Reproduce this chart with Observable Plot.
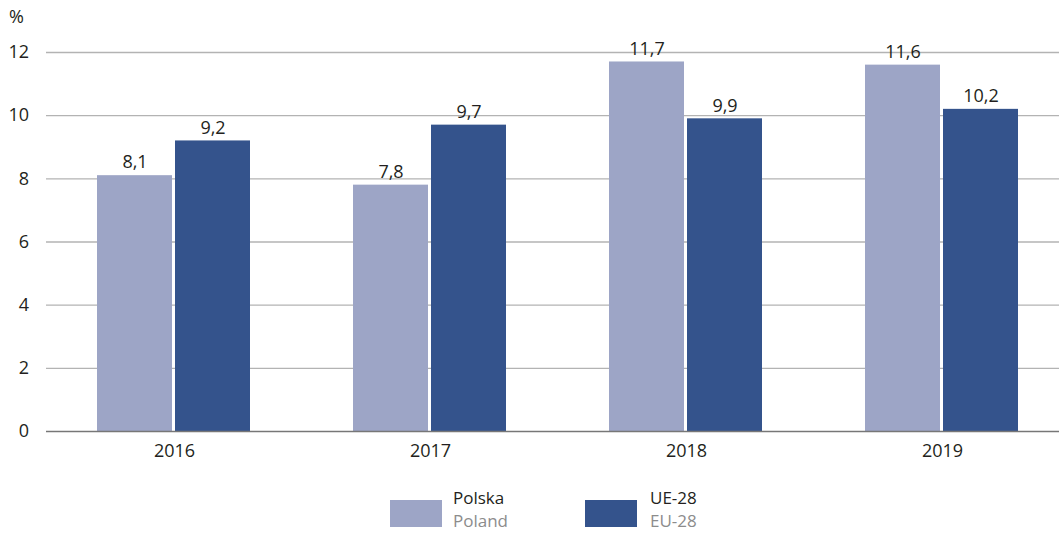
<!DOCTYPE html>
<html>
<head>
<meta charset="utf-8">
<script src="https://cdn.jsdelivr.net/npm/d3@7"></script>
<script src="https://cdn.jsdelivr.net/npm/@observablehq/plot@0.6"></script>
<style>
  body { margin: 0; background: #fff; font-family: "Open Sans", sans-serif; }
  #wrap { position: relative; width: 1059px; height: 533px; overflow: hidden; }
  #chart svg { max-width: none !important; display: block; }
  #pct { position: absolute; left: 9px; top: 4px; font-size: 18px; color: #231f20; }
  #legend { position: absolute; top: 491px; left: 0; width: 1059px; }
  .sw { position: absolute; top: 9px; width: 52px; height: 27px; }
  .lab { position: absolute; top: -5px; white-space: nowrap; font-size: 17px; line-height: 23px; color: #231f20; }
  .lab span { color: #8c8c8c; display: block; }
</style>
</head>
<body>
<div id="wrap">
  <div id="chart"></div>
  <div id="pct">%</div>
  <div id="legend"></div>
</div>
<script>
const years = ["2016", "2017", "2018", "2019"];
const seriesNames = ["Polska", "UE-28"];
const seriesNamesEn = ["Poland", "EU-28"];
const polska = [8.1, 7.8, 11.7, 11.6];
const ue28 = [9.2, 9.7, 9.9, 10.2];
const yTicks = [0, 2, 4, 6, 8, 10, 12];
const colors = ["#9da5c6", "#34538c"];

const table = [];
years.forEach((y, i) => {
  table.push({year: y, series: seriesNames[0], value: polska[i]});
  table.push({year: y, series: seriesNames[1], value: ue28[i]});
});

const fmt = v => v.toFixed(1).replace(".", ",");

const chart = Plot.plot({
  width: 1071,
  height: 470,
  marginLeft: 45,
  marginRight: 0,
  marginTop: 52,
  marginBottom: 39,
  style: {fontFamily: "'Open Sans', sans-serif", fontSize: "18px", color: "#231f20", background: "#fff", maxWidth: "none"},
  facet: {data: table, x: "year", marginRight: 0, marginLeft: 0},
  fx: {domain: years, padding: 0, paddingOuter: 0, axis: "bottom", tickSize: 0, tickPadding: 13, label: null},
  x: {domain: seriesNames, axis: null, paddingInner: 0.038, paddingOuter: 0.644},
  y: {domain: [0, 12], ticks: yTicks, axis: null},
  color: {domain: seriesNames, range: colors},
  marks: [
    Plot.ruleY(yTicks.filter(d => d > 0), {stroke: "#b3b3b3", strokeWidth: 1.3}),
    Plot.barY(table, {x: "series", y: "value", fill: "series"}),
    Plot.ruleY([0], {stroke: "#777", strokeWidth: 1.5}),
    Plot.text(table, {x: "series", y: "value", text: d => fmt(d.value), dy: -13, fill: "#231f20", fontSize: 18})
  ]
});

const yScale = chart.scale("y");
document.getElementById("chart").appendChild(chart);
const svg = d3.select(chart.tagName === "svg" ? chart : chart.querySelector("svg"));
const ax = svg.append("g");
yTicks.forEach(t => {
  ax.append("text")
    .attr("x", 29)
    .attr("y", yScale.apply(t))
    .attr("dy", "0.35em")
    .attr("text-anchor", "end")
    .attr("fill", "#231f20")
    .style("font-size", "18px")
    .text(t);
});

const legend = document.getElementById("legend");
const pos = [{sw: 390, lab: 453}, {sw: 585, lab: 650}];
seriesNames.forEach((s, i) => {
  const sw = document.createElement("div");
  sw.className = "sw";
  sw.style.left = pos[i].sw + "px";
  sw.style.background = colors[i];
  legend.appendChild(sw);
  const lab = document.createElement("div");
  lab.className = "lab";
  lab.style.left = pos[i].lab + "px";
  lab.innerHTML = s + "<span>" + seriesNamesEn[i] + "</span>";
  legend.appendChild(lab);
});
</script>
</body>
</html>
